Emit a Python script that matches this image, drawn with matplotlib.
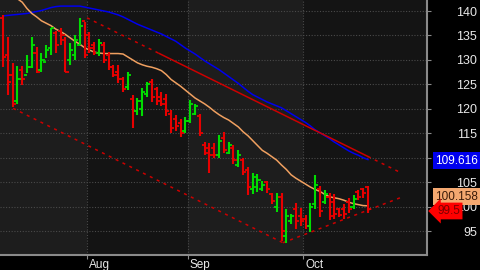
import matplotlib
matplotlib.use("Agg")
import matplotlib.pyplot as plt
import matplotlib.transforms as mtransforms

plt.rcParams['font.family'] = ['Liberation Sans', 'DejaVu Sans']

# daily bars (open, high, low, close)
opens = [138.6, 131.0, 127.0, 121.5, 128.0, 127.0, 128.5, 131.5, 128.0, 129.5,
         132.5, 135.5, 136.0, 135.0, 130.0, 131.0, 133.0, 138.0,
         135.0, 133.0, 131.5, 133.0, 131.0, 128.5, 127.5, 126.0, 124.5, 122.0,
         119.5, 120.0, 123.0, 125.5, 124.0, 122.5, 122.0, 119.0, 118.0, 117.0,
         115.5,
         117.5, 119.0, 118.5, 112.5, 112.0, 112.0, 110.5, 114.0, 111.0, 112.0,
         108.5, 109.5, 107.5, 103.5, 104.0, 103.5, 105.0, 102.5, 100.0, 102.0,
         94.0, 97.0, 99.5, 98.0, 97.5,
         96.0, 100.5, 103.5, 101.0, 102.0, 101.0, 99.5, 99.5, 101.0, 100.0,
         103.0, 103.5, 104.0]
highs = [139.2, 134.7, 129.3, 128.7, 128.7, 131.0, 134.7, 132.6, 131.5, 133.0,
         136.5, 136.0, 136.5, 134.7, 133.5, 135.0, 138.6, 137.7,
         135.7, 133.6, 134.2, 133.6, 131.6, 129.0, 129.0, 126.5, 127.5, 122.8,
         122.2, 124.2, 125.5, 126.0, 124.4, 123.5, 123.0, 119.7, 118.7, 118.0,
         118.3,
         121.8, 121.0, 119.0, 113.2, 113.0, 113.1, 114.6, 115.2, 113.2, 112.5,
         111.5, 110.0, 108.0, 106.8, 106.6, 105.2, 105.3, 102.8, 102.8, 102.8,
         99.6, 98.5, 100.8, 99.8, 98.2,
         100.8, 106.4, 104.3, 103.3, 102.7, 102.5, 99.8, 100.5, 101.7, 102.3,
         103.3, 103.8, 104.3]
lows = [128.5, 122.8, 120.3, 121.0, 124.8, 127.3, 128.3, 127.3, 127.5, 130.4,
        131.0, 131.5, 133.0, 127.5, 129.0, 130.0, 133.0, 130.4,
        131.4, 131.0, 130.8, 129.3, 127.9, 126.5, 125.2, 123.4, 123.8, 116.0,
        118.7, 118.5, 122.5, 121.3, 120.7, 120.5, 118.5, 115.0, 115.5, 114.2,
        115.0,
        117.0, 118.7, 114.5, 110.5, 106.8, 110.0, 110.0, 110.9, 110.7, 108.8,
        108.0, 106.4, 102.3, 102.5, 103.0, 103.1, 102.7, 100.6, 98.8, 93.0,
        92.6, 96.5, 95.5, 96.1, 95.5,
        94.7, 99.6, 97.8, 100.6, 97.2, 97.5, 97.8, 97.5, 98.6, 99.6,
        101.3, 101.8, 98.6]
closes = [130.6, 125.5, 121.0, 126.0, 126.0, 128.5, 133.0, 127.5, 130.0, 132.0,
          136.5, 133.0, 134.0, 127.5, 132.0, 134.0, 137.0, 131.0,
          132.5, 131.5, 133.5, 130.0, 128.5, 127.0, 126.0, 124.0, 127.0, 119.5,
          121.5, 123.5, 125.0, 122.5, 121.5, 121.0, 119.5, 116.0, 116.5, 115.0,
          117.5,
          121.0, 120.5, 115.0, 111.0, 110.5, 110.5, 113.5, 111.5, 112.5, 109.5,
          110.5, 107.0, 104.0, 106.0, 105.5, 104.5, 103.5, 101.2, 102.0, 95.0,
          98.0, 98.0, 97.0, 97.0, 96.0,
          100.0, 104.5, 99.0, 102.5, 98.0, 98.5, 98.3, 98.5, 99.5, 101.5,
          102.0, 102.8, 99.5]

# moving averages
ma_fast = [146.0, 144.5, 143.5, 142.5, 141.8, 140.5, 139.5, 138.8, 138.0, 137.5,
           137.0, 136.3, 135.8, 135.2, 134.5, 133.8, 133.2, 132.5, 132.0, 131.6,
           131.4, 131.3, 131.3, 131.3, 131.3, 131.2, 130.6, 130.0, 129.4, 129.0,
           128.7, 128.5, 128.2, 127.8, 127.0, 126.0, 125.3, 124.6, 123.8, 123.0,
           122.2, 121.6, 121.0, 120.3, 119.5, 118.8, 118.2, 117.7, 117.0, 116.3,
           115.3, 114.5, 113.5, 112.5, 111.5, 110.9, 110.2, 109.5, 108.5, 107.6,
           106.5, 105.8, 105.2, 104.6, 104.0, 103.5, 103.1, 102.5, 102.0, 101.8,
           101.6, 101.3, 100.9, 100.6, 100.4, 100.2, 100.158]
ma_slow = [139.0, 139.1, 139.2, 139.3, 139.4, 139.5, 139.7, 139.9, 140.1, 140.4,
           140.7, 140.9, 141.0, 141.0, 141.0, 141.0, 141.0, 140.8, 140.6, 140.4,
           140.2, 140.0, 139.8, 139.5, 139.2, 138.8, 138.3, 137.8, 137.3, 136.9,
           136.5, 136.1, 135.7, 135.3, 134.8, 134.3, 133.8, 133.1, 132.4, 131.8,
           131.2, 130.5, 129.8, 129.2, 128.6, 128.0, 127.3, 126.6, 125.9, 125.2,
           124.4, 123.6, 122.9, 122.4, 121.9, 121.4, 121.0, 120.6, 120.2, 119.6,
           119.0, 118.4, 117.8, 117.2, 116.5, 115.7, 115.1, 114.5, 113.9, 113.2,
           112.6, 112.0, 111.4, 110.9, 110.5, 110.0, 109.616]

# trend channel (bar index, price)
upper_line = [(17.5, 138.6), (82.7, 107.0)]
lower_line = [(2.1, 120.1), (58.3, 92.6)]
rise_line = [(58.3, 92.6), (82.7, 101.8)]

month_starts = [17.5, 38.5, 62.5]
month_names = ['Aug', 'Sep', 'Oct']
y_ticks = [95, 100, 105, 110, 115, 120, 125, 130, 135, 140]
last_price = 99.5

RED = '#e80000'
GREEN = '#00dd00'

fig = plt.figure(figsize=(4.8, 2.7), dpi=100, facecolor='black')
ax = fig.add_axes([0, 15.5 / 270, 427.0 / 480, 254.5 / 270])
ax.set_facecolor('#141414')

xmin, xmax = -0.625, 88.3
ax.set_xlim(xmin, xmax)
ax.set_ylim(90.2, 142.25)

# lighter bands for alternate months
ax.axvspan(xmin, month_starts[0], color='#1d1d1d', zorder=0, lw=0)
ax.axvspan(month_starts[1], month_starts[2], color='#1d1d1d', zorder=0, lw=0)

for y in y_ticks:
    ax.axhline(y, color='#4a4a4a', lw=0.8, ls=(0, (1, 1.5)), zorder=1)
for m in month_starts:
    ax.axvline(m, color='#4a4a4a', lw=0.8, ls=(0, (1, 1.5)), zorder=1)

# OHLC bars
w = 0.65
for i in range(len(opens)):
    c = GREEN if closes[i] >= opens[i] else RED
    ax.vlines(i, lows[i], highs[i], color=c, lw=1.5, zorder=4)
    ax.hlines(opens[i], i - w, i, color=c, lw=1.3, zorder=4)
    ax.hlines(closes[i], i, i + w, color=c, lw=1.3, zorder=4)

idx = list(range(len(ma_fast)))
ax.plot(idx, ma_slow, color='#0000ee', lw=1.1, zorder=3)
ax.plot(idx, ma_fast, color='#f0a060', lw=1.1, zorder=3)

# channel lines
(x0, y0), (x1, y1) = upper_line
k = (y1 - y0) / (x1 - x0)
xs = 32.5
xe = 76.0
ax.plot([x0, xs], [y0, y0 + k * (xs - x0)], color='#cc0000', lw=1.1, ls=(0, (2, 3)), zorder=3)
ax.plot([xs, xe], [y0 + k * (xs - x0), y0 + k * (xe - x0)], color='#cc0000', lw=1.1, zorder=3)
ax.plot([xe, x1], [y0 + k * (xe - x0), y1], color='#cc0000', lw=1.1, ls=(0, (2, 3)), zorder=3)
ax.plot(*zip(*lower_line), color='#cc0000', lw=1.1, ls=(0, (2, 3)), zorder=3)
ax.plot(*zip(*rise_line), color='#cc0000', lw=1.1, ls=(0, (2, 3)), zorder=3)

# axes styling
for s in ['top', 'left']:
    ax.spines[s].set_visible(False)
ax.spines['right'].set_color('#8a8a8a')
ax.spines['bottom'].set_color('#8a8a8a')
ax.spines['right'].set_linewidth(1.5)
ax.spines['bottom'].set_linewidth(1.5)

ax.yaxis.tick_right()
ax.set_yticks(y_ticks)
ax.tick_params(axis='y', colors='#8a8a8a', labelcolor='#e8e8e8', length=3,
               pad=33, labelsize=9)
for lab in ax.get_yticklabels():
    lab.set_horizontalalignment('right')

ax.set_xticks(month_starts)
ax.set_xticklabels(month_names)
ax.tick_params(axis='x', colors='#8a8a8a', labelcolor='#e8e8e8', length=3,
               pad=0, labelsize=8.5)
for lab in ax.get_xticklabels():
    lab.set_horizontalalignment('left')
    lab.set_transform(lab.get_transform() +
                      mtransforms.ScaledTranslation(2 / 100, 0, fig.dpi_scale_trans))

# value labels on right axis (shifted apart where they would collide)
trans = mtransforms.blended_transform_factory(ax.transAxes, ax.transData)
ax.text(1.019, ma_slow[-1] - 0.2, '%.3f' % ma_slow[-1], transform=trans, ha='left', va='center',
        fontsize=8.5, color='white', clip_on=False, zorder=6,
        bbox=dict(boxstyle='square,pad=0.2', fc='#0000ee', ec='none'))
ax.text(1.019, ma_fast[-1] + 1.9, '%.3f' % ma_fast[-1], transform=trans, ha='left', va='center',
        fontsize=8.5, color='#3a1a08', clip_on=False, zorder=6,
        bbox=dict(boxstyle='square,pad=0.2', fc='#f4a870', ec='none'))
ax.text(1.024, last_price - 0.4, '%.1f' % last_price, transform=trans, ha='left', va='center',
        fontsize=8.5, color='#7a0000', clip_on=False, zorder=6,
        bbox=dict(boxstyle='larrow,pad=0.2', fc='#ff0000', ec='none'))

fig.savefig('out.png', dpi=100, facecolor='black')
